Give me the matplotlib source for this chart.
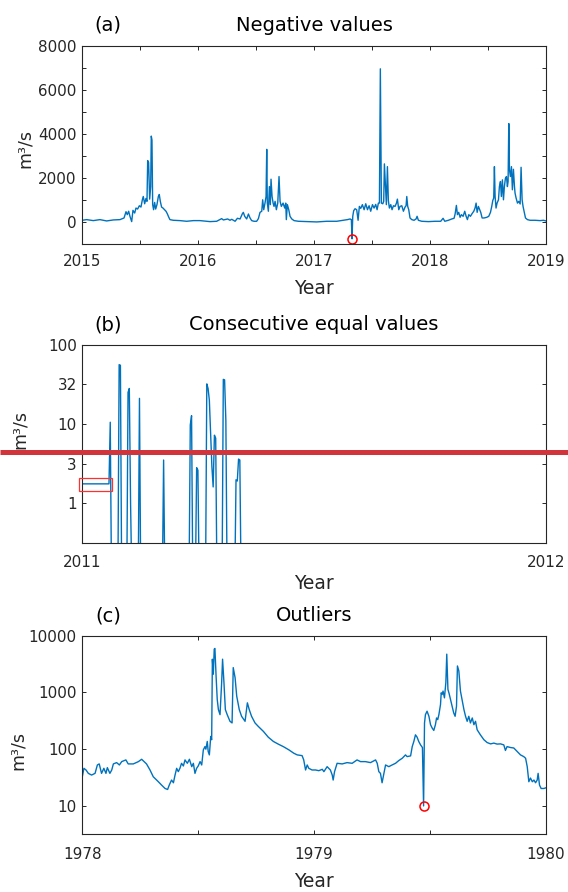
import numpy as np
import matplotlib
matplotlib.use("Agg")
import matplotlib.pyplot as plt
from matplotlib.lines import Line2D
from matplotlib.patches import Rectangle
from matplotlib.ticker import FixedLocator, NullLocator

# ---------------------------------------------------------------------------
# (a) Daily discharge 2015-2018 with one negative value
years_a = [
    2015.000, 2015.037, 2015.095, 2015.152, 2015.210, 2015.267, 2015.325, 2015.360,
    2015.377, 2015.388, 2015.400, 2015.411, 2015.426, 2015.437, 2015.452, 2015.463,
    2015.477, 2015.492, 2015.506, 2015.518, 2015.526, 2015.538, 2015.549, 2015.558,
    2015.564, 2015.572, 2015.581, 2015.590, 2015.595, 2015.601, 2015.607, 2015.615,
    2015.624, 2015.633, 2015.644, 2015.656, 2015.664, 2015.673, 2015.684, 2015.696,
    2015.710, 2015.722, 2015.733, 2015.745, 2015.756, 2015.785, 2015.843, 2015.900,
    2015.958, 2016.015, 2016.044, 2016.102, 2016.159, 2016.202, 2016.217, 2016.254,
    2016.274, 2016.289, 2016.318, 2016.338, 2016.361, 2016.381, 2016.389, 2016.401,
    2016.418, 2016.433, 2016.447, 2016.461, 2016.481, 2016.504, 2016.519, 2016.533,
    2016.548, 2016.556, 2016.565, 2016.576, 2016.585, 2016.591, 2016.596, 2016.605,
    2016.614, 2016.622, 2016.628, 2016.637, 2016.646, 2016.654, 2016.663, 2016.674,
    2016.686, 2016.697, 2016.706, 2016.717, 2016.732, 2016.746, 2016.755, 2016.760,
    2016.769, 2016.781, 2016.792, 2016.807, 2016.827, 2016.864, 2016.936, 2017.022,
    2017.108, 2017.195, 2017.252, 2017.287, 2017.310, 2017.321, 2017.327, 2017.333,
    2017.341, 2017.353, 2017.367, 2017.379, 2017.390, 2017.402, 2017.416, 2017.431,
    2017.445, 2017.460, 2017.474, 2017.488, 2017.503, 2017.517, 2017.531, 2017.543,
    2017.554, 2017.563, 2017.571, 2017.580, 2017.592, 2017.600, 2017.606, 2017.615,
    2017.623, 2017.632, 2017.640, 2017.649, 2017.661, 2017.672, 2017.684, 2017.698,
    2017.710, 2017.718, 2017.730, 2017.741, 2017.756, 2017.770, 2017.784, 2017.793,
    2017.799, 2017.807, 2017.816, 2017.827, 2017.842, 2017.862, 2017.879, 2017.888,
    2017.899, 2017.928, 2017.986, 2018.043, 2018.092, 2018.112, 2018.127, 2018.158,
    2018.187, 2018.207, 2018.216, 2018.227, 2018.236, 2018.247, 2018.259, 2018.270,
    2018.285, 2018.299, 2018.311, 2018.322, 2018.334, 2018.348, 2018.362, 2018.377,
    2018.388, 2018.397, 2018.406, 2018.417, 2018.426, 2018.437, 2018.449, 2018.466,
    2018.489, 2018.506, 2018.521, 2018.532, 2018.541, 2018.549, 2018.555, 2018.561,
    2018.569, 2018.578, 2018.590, 2018.598, 2018.607, 2018.615, 2018.624, 2018.633,
    2018.641, 2018.650, 2018.659, 2018.667, 2018.673, 2018.679, 2018.685, 2018.693,
    2018.702, 2018.710, 2018.719, 2018.728, 2018.733, 2018.742, 2018.754, 2018.765,
    2018.777, 2018.785, 2018.794, 2018.802, 2018.811, 2018.823, 2018.840, 2018.863,
    2018.906, 2018.949, 2018.978, 2019.000,
]
flow_a = [
    90, 120, 75, 120, 60, 105, 120, 195,
    480, 345, 500, 270, 30, 540, 420, 645,
    600, 750, 690, 1020, 1170, 840, 1080, 950,
    2800, 2710, 1050, 1620, 3910, 3730, 800, 570,
    900, 600, 800, 1170, 1260, 950, 690, 645,
    570, 500, 390, 240, 120, 90, 75, 45,
    75, 75, 60, 30, 45, 165, 105, 150,
    90, 135, 45, 180, 150, 390, 450, 270,
    150, 375, 195, 75, 45, 45, 165, 450,
    500, 1020, 570, 870, 1170, 3310, 870, 500,
    1620, 800, 1955, 1170, 870, 720, 950, 570,
    870, 2075, 950, 720, 870, 645, 870, 120,
    800, 570, 270, 150, 75, 45, 30, 15,
    45, 45, 90, 120, 150, 120, -750, 270,
    525, 615, 570, 90, 720, 630, 800, 570,
    840, 570, 750, 500, 800, 645, 810, 570,
    870, 870, 6965, 870, 840, 950, 2650, 1620,
    800, 2525, 990, 645, 800, 570, 750, 720,
    870, 1050, 570, 720, 750, 500, 690, 750,
    1170, 720, 570, 195, 120, 90, 150, 270,
    90, 45, 30, 45, 45, 180, 45, 90,
    150, 180, 375, 765, 345, 450, 225, 345,
    270, 500, 270, 120, 345, 270, 390, 500,
    645, 870, 450, 720, 600, 450, 195, 195,
    225, 270, 450, 720, 990, 1100, 2525, 1170,
    645, 870, 1020, 1620, 1850, 1170, 1925, 1020,
    1620, 2000, 2075, 1620, 1850, 4480, 2375, 2075,
    2525, 1475, 2405, 1620, 1325, 1100, 870, 950,
    830, 2495, 1020, 720, 500, 195, 120, 90,
    90, 75, 90, 60,
]
flagged_a = (2017.327, -750)

# ---------------------------------------------------------------------------
# (b) Daily discharge in spring 2011 (day of year, starting 1 January)
flow_b_spring = [
    1.75, 1.75, 1.75, 1.75, 1.75, 1.75, 1.75, 1.75, 1.75, 1.75,   # days 0-9
    1.75, 1.75, 1.75, 1.75, 1.75, 1.75, 1.75, 1.75, 1.75, 1.75,   # 10-19
    1.75, 1.75, 10.5, 0, 0, 0, 0, 0, 0, 56,                       # 20-29
    55, 0, 0, 0, 0, 0, 25, 28, 1, 0,                              # 30-39
    0, 0, 0, 0, 0, 21, 0, 0, 0, 0,                                # 40-49
    0, 0, 0, 0, 0, 0, 0, 0, 0, 0,                                 # 50-59
    0, 0, 0, 0, 3.5, 0, 0, 0, 0, 0,                               # 60-69
    0, 0, 0, 0, 0, 0, 0, 0, 0, 0,                                 # 70-79
    0, 0, 0, 0, 0, 9.7, 12.7, 0, 0, 0,                            # 80-89
    2.8, 2.6, 0, 0, 0, 0, 0, 0, 32, 28,                           # 90-99
    20, 7.6, 2.9, 1.6, 7.2, 6.6, 0, 0, 0, 0,                      # 100-109
    0, 36.5, 36, 11, 0, 0, 0, 0, 0, 0,                            # 110-119
    0, 1.97, 1.9, 3.6, 3.5, 0, 0,                                 # 120-126
]
days_in_2011 = 365
flow_b = flow_b_spring + [0] * (days_in_2011 - len(flow_b_spring))
flat_run_b = (2010.9935, 2011.0634, 1.43, 2.1)   # x0, x1, y0, y1 of the highlighted run

# ---------------------------------------------------------------------------
# (c) Daily discharge 1978-1979 with one outlier
years_c = [
    1978.000, 1978.007, 1978.016, 1978.026, 1978.040, 1978.055, 1978.065, 1978.073,
    1978.083, 1978.093, 1978.102, 1978.108, 1978.119, 1978.127, 1978.134, 1978.148,
    1978.160, 1978.170, 1978.188, 1978.198, 1978.220, 1978.242, 1978.256, 1978.277,
    1978.292, 1978.306, 1978.328, 1978.342, 1978.357, 1978.368, 1978.375, 1978.385,
    1978.393, 1978.400, 1978.407, 1978.414, 1978.421, 1978.428, 1978.436, 1978.443,
    1978.453, 1978.462, 1978.472, 1978.479, 1978.486, 1978.493, 1978.500, 1978.508,
    1978.515, 1978.522, 1978.529, 1978.533, 1978.539, 1978.543, 1978.548, 1978.554,
    1978.558, 1978.561, 1978.565, 1978.569, 1978.572, 1978.577, 1978.582, 1978.587,
    1978.594, 1978.601, 1978.605, 1978.611, 1978.617, 1978.625, 1978.637, 1978.646,
    1978.651, 1978.659, 1978.666, 1978.677, 1978.687, 1978.702, 1978.712, 1978.720,
    1978.730, 1978.745, 1978.759, 1978.781, 1978.802, 1978.824, 1978.845, 1978.867,
    1978.891, 1978.912, 1978.927, 1978.948, 1978.955, 1978.963, 1978.970, 1978.977,
    1978.991, 1979.006, 1979.020, 1979.035, 1979.042, 1979.056, 1979.070, 1979.078,
    1979.082, 1979.088, 1979.099, 1979.121, 1979.142, 1979.164, 1979.185, 1979.200,
    1979.221, 1979.243, 1979.265, 1979.272, 1979.279, 1979.286, 1979.293, 1979.301,
    1979.308, 1979.322, 1979.336, 1979.351, 1979.365, 1979.380, 1979.394, 1979.401,
    1979.416, 1979.423, 1979.430, 1979.437, 1979.444, 1979.451, 1979.459, 1979.467,
    1979.472, 1979.476, 1979.480, 1979.487, 1979.495, 1979.502, 1979.509, 1979.516,
    1979.523, 1979.528, 1979.533, 1979.538, 1979.545, 1979.548, 1979.552, 1979.556,
    1979.562, 1979.568, 1979.572, 1979.577, 1979.582, 1979.588, 1979.595, 1979.602,
    1979.608, 1979.614, 1979.618, 1979.624, 1979.631, 1979.638, 1979.646, 1979.653,
    1979.660, 1979.667, 1979.674, 1979.682, 1979.689, 1979.696, 1979.703, 1979.717,
    1979.732, 1979.746, 1979.761, 1979.775, 1979.789, 1979.804, 1979.818, 1979.825,
    1979.832, 1979.847, 1979.861, 1979.876, 1979.890, 1979.904, 1979.912, 1979.919,
    1979.926, 1979.933, 1979.941, 1979.948, 1979.955, 1979.962, 1979.966, 1979.972,
    1979.979, 1979.991, 1980.000,
]
flow_c = [
    32.7, 46, 43, 37.5, 35, 37.5, 52.7, 55,
    37.5, 46, 37.5, 47.3, 37.5, 43, 55, 58,
    52.7, 60.4, 64.7, 55, 55, 60.4, 66.4, 55,
    43, 32.7, 26.7, 23.3, 20.3, 19.5, 23.3, 28.6,
    25.6, 35, 46, 40.2, 46, 56.4, 50.6, 64.7,
    56.4, 66.4, 49.2, 56.4, 37.5, 46, 50.6, 60.4,
    52.7, 97.3, 111, 100, 137, 91, 79.3, 168,
    147, 3855, 2090, 5800, 5960, 1950, 752, 499,
    406, 1487, 3855, 1487, 499, 406, 310, 290,
    2740, 1820, 861, 499, 380, 310, 656, 499,
    380, 290, 252, 206, 163, 137, 123, 111,
    97.3, 85, 79.3, 77, 64.7, 43, 52.7, 46,
    43, 43, 41.8, 44.2, 40.2, 49.2, 43, 35,
    28.6, 40.2, 56.4, 55, 58, 56.4, 64.7, 60.4,
    60.4, 58, 64.7, 56.4, 40.2, 37.5, 25.6, 37.5,
    52.7, 49.2, 52.7, 56.4, 63, 69.2, 79.3, 74,
    76.2, 111, 137, 179, 163, 137, 119, 107,
    10, 290, 406, 467, 380, 270, 236, 214,
    270, 355, 332, 406, 612, 986, 921, 1057,
    803, 1487, 4730, 1130, 960, 752, 572, 435,
    380, 572, 2930, 2395, 1057, 752, 499, 380,
    310, 380, 290, 355, 270, 310, 220, 179,
    147, 131, 124, 128, 123, 124, 119, 95,
    111, 107, 105, 91, 79.3, 74, 69.2, 49.2,
    26.7, 31, 26.7, 28.6, 25.6, 28.6, 37.5, 23.3,
    20.3, 20.3, 20.9,
]
flagged_c = (1979.472, 10)

# ---------------------------------------------------------------------------
LINE_BLUE = "#0072BD"
AX_GREY = "#262626"
FLAG_RED = "#FF0000"
W, H = 568, 892

plt.rcParams.update({
    "font.family": ["DejaVu Sans"],
    "axes.edgecolor": AX_GREY,
    "axes.linewidth": 0.8,
    "xtick.color": AX_GREY,
    "ytick.color": AX_GREY,
    "xtick.labelcolor": AX_GREY,
    "ytick.labelcolor": AX_GREY,
    "xtick.direction": "in",
    "ytick.direction": "in",
    "xtick.major.size": 3.1,
    "ytick.major.size": 3.1,
    "xtick.major.width": 0.7,
    "ytick.major.width": 0.7,
    "xtick.labelsize": 10.9,
    "ytick.labelsize": 10.9,
})

fig = plt.figure(figsize=(W / 100, H / 100), dpi=100)


def px_axes(left, right, top, bottom):
    return fig.add_axes([left / W, 1 - bottom / H, (right - left) / W, (bottom - top) / H])


def style_axes(ax, xpad):
    ax.tick_params(which="both", top=True, right=True)
    ax.tick_params(axis="x", pad=xpad)
    ax.tick_params(axis="y", pad=4.0)
    ax.xaxis.set_minor_locator(NullLocator())
    ax.yaxis.set_minor_locator(NullLocator())


def year_ticks(ax, first, last):
    ticks = np.arange(first, last + 0.25, 0.5)
    ax.set_xticks(ticks)
    ax.set_xticklabels([str(int(t)) if float(t).is_integer() else "" for t in ticks])


def panel_text(tag, title, base_px, ylabel_xy, xlabel_px):
    y = 1 - base_px / H
    fig.text(108 / W, y, tag, ha="center", va="baseline", fontsize=14, color="black")
    fig.text(314 / W, y, title, ha="center", va="baseline", fontsize=14, color="black")
    fig.text(ylabel_xy[0] / W, 1 - ylabel_xy[1] / H, "m³/s", rotation=90,
             ha="center", va="center", fontsize=12.5, color=AX_GREY)
    fig.text(314 / W, 1 - xlabel_px / H, "Year", ha="center", va="baseline",
             fontsize=13.5, color=AX_GREY)


# (a) ----------------------------------------------------------------------
ax_a = px_axes(82.3, 546, 46, 244.3)
ax_a.plot(years_a, flow_a, color=LINE_BLUE, lw=1.0)
ax_a.plot(*flagged_a, "o", ms=6.5, mfc="none", mec=FLAG_RED, mew=1.1, clip_on=False)
ax_a.set_xlim(2015, 2019)
ax_a.set_ylim(-1000, 8000)
year_ticks(ax_a, 2015, 2019)
yt = np.arange(0, 8001, 1000)
ax_a.set_yticks(yt)
ax_a.set_yticklabels([str(v) if v % 2000 == 0 else "" for v in yt])
style_axes(ax_a, xpad=7.3)
panel_text("(a)", "Negative values", 30.7, (25, 148.5), 294)

# (b) ----------------------------------------------------------------------
ax_b = px_axes(82.3, 546, 344.7, 542.7)
x_b = 2011 + np.arange(len(flow_b)) / days_in_2011
# zero flow has no place on a log axis: pin it just below the visible range
y_b = np.where(np.asarray(flow_b) > 0, flow_b, 0.1)
ax_b.plot(x_b, y_b, color=LINE_BLUE, lw=1.0)
ax_b.set_yscale("log")
ax_b.set_xlim(2011, 2012)
ax_b.set_ylim(10 ** -0.5, 100)
ax_b.set_xticks([2011, 2012])
ax_b.set_xticklabels(["2011", "2012"])
ax_b.yaxis.set_major_locator(FixedLocator([1, 10 ** 0.5, 10, 10 ** 1.5, 100]))
ax_b.set_yticklabels(["1", "3", "10", "32", "100"])
style_axes(ax_b, xpad=9.2)
x0, x1, r0, r1 = flat_run_b
ax_b.add_patch(Rectangle((x0, r0), x1 - x0, r1 - r0, fill=False, ec="#FF3030",
                         lw=0.9, clip_on=False, zorder=5))
panel_text("(b)", "Consecutive equal values", 330, (20, 430), 589)

# (c) ----------------------------------------------------------------------
ax_c = px_axes(82.3, 546, 635.7, 834.3)
ax_c.plot(years_c, flow_c, color=LINE_BLUE, lw=1.0)
ax_c.plot(*flagged_c, "o", ms=6.5, mfc="none", mec=FLAG_RED, mew=1.1, clip_on=False)
ax_c.set_yscale("log")
ax_c.set_xlim(1978, 1980)
ax_c.set_ylim(10 ** 0.5, 10 ** 4)
year_ticks(ax_c, 1978, 1980)
ax_c.yaxis.set_major_locator(FixedLocator([10, 100, 1000, 10000]))
ax_c.set_yticklabels(["10", "100", "1000", "10000"])
style_axes(ax_c, xpad=9.5)
panel_text("(c)", "Outliers", 621.4, (18.3, 750), 887.3)

# dividing rule across the whole figure
fig.add_artist(Line2D([0, 1], [1 - 451.5 / H, 1 - 451.5 / H], transform=fig.transFigure,
                      color="#D1343A", lw=3.6, solid_capstyle="butt", zorder=20))

fig.savefig("out.png", dpi=100)
